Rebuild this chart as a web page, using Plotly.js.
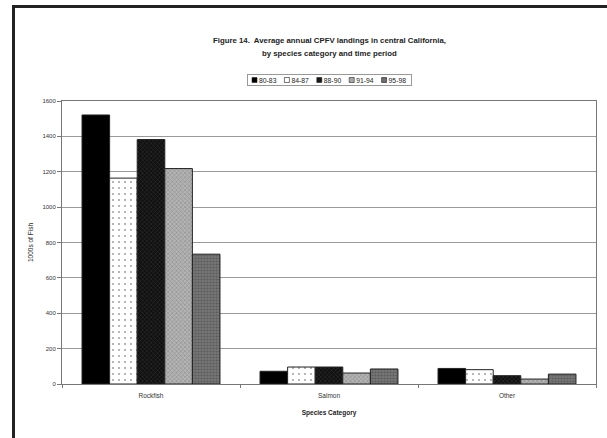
<!DOCTYPE html>
<html>
<head>
<meta charset="utf-8">
<script src="https://cdn.plot.ly/plotly-3.0.1.min.js"></script>
<style>
  html, body { margin: 0; padding: 0; background: #fff; }
  #wrap { position: relative; width: 607px; height: 438px; overflow: hidden; }
  #chart { position: absolute; left: 0; top: 0; width: 607px; height: 438px; }
  #frame { position: absolute; left: 12px; top: 5px; width: 700px; height: 500px;
           border-top: 3px solid #222; border-left: 3px solid #222; pointer-events: none; }
</style>
</head>
<body>
<div id="wrap">
  <div id="chart"></div>
  <div id="frame"></div>
</div>
<script>
const categories = ["Rockfish", "Salmon", "Other"];
const periods = ["80-83", "84-87", "88-90", "91-94", "95-98"];
const landings8083 = [1521, 72, 88];
const landings8487 = [1164, 96, 81];
const landings8890 = [1382, 96, 47];
const landings9194 = [1218, 62, 28];
const landings9598 = [734, 85, 56];
const yTicks = [0, 200, 400, 600, 800, 1000, 1200, 1400, 1600];
const titleLines = [
  "Figure 14.  Average annual CPFV landings in central California,",
  "by species category and time period"
];

const series = [landings8083, landings8487, landings8890, landings9194, landings9598];
const patterns = [
  { shape: "", bgcolor: "#000000", fgcolor: "#000000" },
  { shape: ".", bgcolor: "#ffffff", fgcolor: "#9a9a9a", size: 6, solidity: 0.08 },
  { shape: "x", bgcolor: "#101010", fgcolor: "#333333", size: 3, solidity: 0.3 },
  { shape: "x", bgcolor: "#b4b4b4", fgcolor: "#8c8c8c", size: 3, solidity: 0.35 },
  { shape: ".", bgcolor: "#777777", fgcolor: "#5a5a5a", size: 3, solidity: 0.4 }
];

const traces = series.map((vals, i) => ({
  type: "bar",
  name: periods[i],
  x: categories,
  y: vals,
  marker: {
    color: patterns[i].bgcolor,
    line: { color: "#222", width: 1 },
    pattern: Object.assign({ fillmode: "replace" }, patterns[i])
  }
}));

const font = "Liberation Sans, Arial, sans-serif";
const pyToPaper = py => (384 - py) / 283;
const layout = {
  width: 607, height: 438,
  margin: { l: 62, r: 11, t: 101, b: 54 },
  paper_bgcolor: "#ffffff", plot_bgcolor: "#ffffff",
  font: { family: font, size: 6, color: "#333" },
  barmode: "group",
  bargap: 0.225,
  bargroupgap: 0,
  annotations: titleLines.map((t, i) => ({
    text: "<b>" + t + "</b>",
    xref: "paper", yref: "paper",
    x: 0.5, y: pyToPaper(i === 0 ? 40 : 54),
    xanchor: "center", yanchor: "middle",
    showarrow: false,
    font: { family: font, size: 7.8, color: "#222" }
  })),
  showlegend: true,
  legend: {
    orientation: "h",
    x: 0.5, xanchor: "center",
    y: 1.09, yanchor: "middle",
    bgcolor: "#fff", bordercolor: "#999", borderwidth: 1,
    font: { family: font, size: 6.8, color: "#222" },
    itemwidth: 30, traceorder: "normal"
  },
  xaxis: {
    type: "category",
    showline: true, linecolor: "#777", linewidth: 1, mirror: true,
    ticks: "outside", tickson: "boundaries", ticklen: 3, tickcolor: "#777",
    ticklabelstandoff: 5,
    tickfont: { family: font, size: 6.5, color: "#333" },
    title: { text: "<b>Species Category</b>", font: { family: font, size: 6.5, color: "#222" }, standoff: 12 },
    fixedrange: true
  },
  yaxis: {
    range: [0, 1600],
    tickvals: yTicks,
    ticktext: yTicks.map(String),
    showgrid: true, gridcolor: "#9a9a9a", gridwidth: 1,
    showline: true, linecolor: "#777", linewidth: 1, mirror: true,
    ticks: "outside", ticklen: 4, tickcolor: "#777",
    tickfont: { family: font, size: 6, color: "#333" },
    zeroline: false,
    title: { text: "1000s of Fish", font: { family: font, size: 6.5, color: "#222" }, standoff: 8 },
    fixedrange: true
  }
};

Plotly.newPlot("chart", traces, layout, { displayModeBar: false, staticPlot: true }).then(gd => {
  // compact the legend to match the small boxed key of the original
  const leg = gd.querySelector("g.legend");
  if (!leg) return;
  const items = leg.querySelectorAll("g.traces");
  let x = 5;
  items.forEach(it => {
    it.setAttribute("transform", "translate(" + x + ",6)");
    it.querySelectorAll(".legendpoints path").forEach(p => {
      p.setAttribute("transform", "translate(2.5,0)");
      p.setAttribute("d", "M2.5,2.5H-2.5V-2.5H2.5Z");
      p.style.strokeWidth = "0.6px";
    });
    const t = it.querySelector("text.legendtext");
    t.setAttribute("x", 7);
    const w = t.getComputedTextLength();
    x += 7 + w + 8;
  });
  const groups = leg.querySelector("g.groups");
  if (groups) groups.setAttribute("transform", "translate(0,0)");
  const sb = leg.querySelector("g.scrollbox");
  if (sb) { sb.setAttribute("transform", "translate(0,0)"); sb.removeAttribute("clip-path"); }
  const width = x - 3, height = 11;
  const bg = leg.querySelector("rect.bg");
  if (bg) { bg.setAttribute("width", width); bg.setAttribute("height", height); bg.setAttribute("x", 0.5); bg.setAttribute("y", 0.5); }
  const cx = 329;
  leg.setAttribute("transform", "translate(" + (cx - width / 2) + ",74)");
});
</script>
</body>
</html>
